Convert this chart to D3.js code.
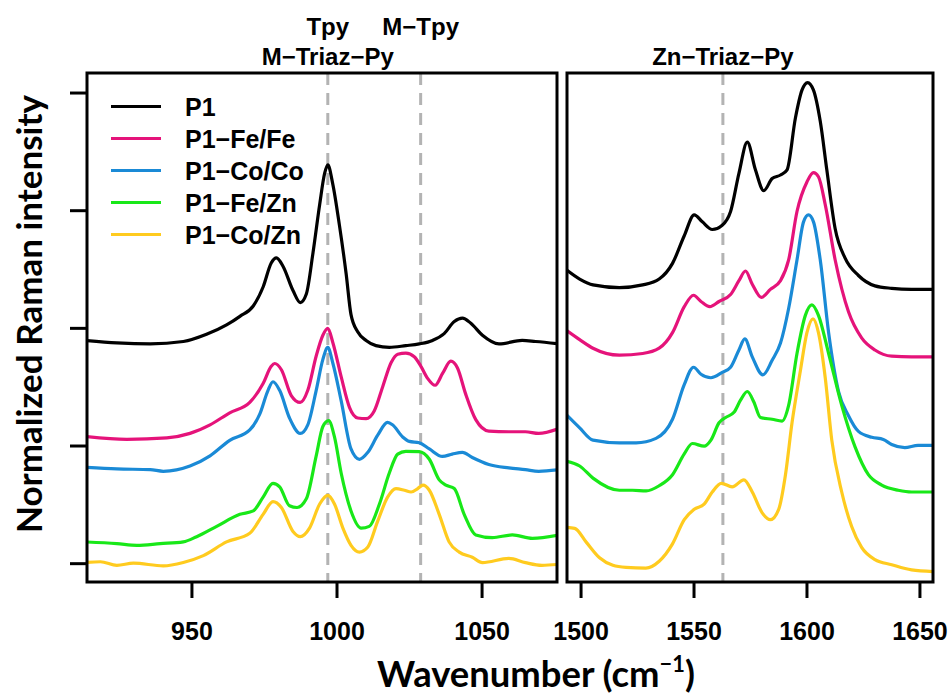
<!DOCTYPE html>
<html>
<head>
<meta charset="utf-8">
<script src="https://cdn.jsdelivr.net/npm/d3@7"></script>
<style>
  html, body { margin: 0; padding: 0; background: #fff; }
  svg { display: block; }
</style>
</head>
<body>
<svg id="chart" width="952" height="695"></svg>
<script>
// ---------------- DATA ----------------
const seriesNames = ["P1", "P1\u2212Fe/Fe", "P1\u2212Co/Co", "P1\u2212Fe/Zn", "P1\u2212Co/Zn"];
const seriesColors = ["#000000", "#E5137A", "#1A8AD6", "#18E818", "#FFCB1F"];

const leftTicks = [950, 1000, 1050];
const rightTicks = [1500, 1550, 1600, 1650];
const yTicks = [0, 1, 2, 3, 4];
const leftMarkers = [997, 1029];
const rightMarkers = [1563];
const markerLabels = [
  { panel: "left", at: 997, row: 0, text: "Tpy" },
  { panel: "left", at: 1029, row: 0, text: "M\u2212Tpy" },
  { panel: "left", at: 997, row: 1, text: "M\u2212Triaz\u2212Py" },
  { panel: "right", at: 1563, row: 1, text: "Zn\u2212Triaz\u2212Py" }
];

// Left panel (920–1070 cm-1): [wavenumber, normalized intensity + offset]
const p1Left = [[913,1.893],[924.3,1.872],[935.8,1.864],[947.2,1.884],[955.2,1.945],[962.1,2.025],[966.7,2.098],[971.3,2.186],[974.7,2.347],[977.5,2.551],[979.3,2.595],[981.6,2.522],[985,2.317],[987.5,2.215],[989.6,2.288],[991.9,2.639],[994.2,3.049],[995.9,3.312],[997,3.385],[998.7,3.224],[1001,2.873],[1003.3,2.464],[1005,2.112],[1007.3,1.966],[1010.2,1.893],[1013.6,1.849],[1018.2,1.834],[1023.9,1.849],[1028.5,1.864],[1033.1,1.893],[1037.1,1.951],[1040.6,2.054],[1043.4,2.083],[1046.3,2.039],[1050.3,1.937],[1056,1.864],[1064,1.893],[1068.6,1.884],[1077,1.864]];
const feFeLeft = [[913,1.079],[927.7,1.053],[941.5,1.065],[949.5,1.103],[956.4,1.176],[963.2,1.278],[970.1,1.366],[974.7,1.527],[977.5,1.673],[978.7,1.697],[981,1.644],[984.4,1.425],[987.5,1.366],[990.1,1.469],[993,1.761],[995.3,1.937],[997,1.995],[998.7,1.878],[1001.6,1.585],[1004.5,1.322],[1007.3,1.234],[1010.2,1.228],[1013,1.293],[1015.9,1.498],[1018.8,1.703],[1021.1,1.776],[1023.9,1.785],[1026.8,1.755],[1029.1,1.673],[1031.4,1.571],[1034,1.512],[1036.6,1.615],[1039.4,1.717],[1041.7,1.659],[1044.5,1.439],[1048,1.22],[1052.5,1.123],[1059.4,1.117],[1065.1,1.117],[1069.7,1.103],[1077,1.147]];
const coCoLeft = [[913,0.816],[924.3,0.801],[935.8,0.795],[940.3,0.781],[949.5,0.825],[956.4,0.912],[963.2,1.044],[970.1,1.132],[973.5,1.264],[976.4,1.469],[978.1,1.542],[980.4,1.469],[983.8,1.234],[987.5,1.103],[990.1,1.176],[993,1.469],[995.3,1.732],[997,1.834],[998.7,1.703],[1001.6,1.381],[1005,0.971],[1007.9,0.883],[1010.8,0.942],[1014.2,1.088],[1017.6,1.196],[1019.3,1.176],[1022.8,1.073],[1025.1,1.035],[1028.5,1.024],[1032,0.971],[1036.5,0.907],[1039.9,0.927],[1043.4,0.942],[1046.8,0.898],[1052.5,0.839],[1059.4,0.81],[1065.1,0.795],[1069.7,0.781],[1077,0.795]];
const feZnLeft = [[913,0.181],[924.3,0.166],[931.2,0.152],[939.2,0.166],[947.2,0.181],[951.8,0.225],[958.7,0.313],[966.7,0.415],[971.3,0.444],[974.7,0.561],[978.1,0.678],[980.4,0.649],[983.8,0.488],[986.4,0.473],[989.6,0.547],[993,0.912],[995.3,1.161],[997.3,1.211],[999.3,1.073],[1001.6,0.766],[1005,0.444],[1008.5,0.298],[1011.3,0.313],[1014.8,0.503],[1018.2,0.766],[1021.1,0.927],[1023.9,0.951],[1028.5,0.948],[1032,0.883],[1035.4,0.708],[1037.7,0.664],[1040.6,0.634],[1044,0.415],[1048,0.24],[1053.7,0.217],[1060.6,0.24],[1067.5,0.211],[1077,0.24]];
const coZnLeft = [[913,0.005],[918.6,0.012],[924.3,-0.018],[930,0],[940.3,-0.023],[947.2,0.006],[954.1,0.064],[962.1,0.181],[970.1,0.254],[974.7,0.415],[978.1,0.523],[981,0.473],[985,0.269],[987.5,0.225],[990.7,0.298],[994.2,0.503],[997,0.576],[999.3,0.503],[1002.2,0.298],[1005,0.152],[1007.9,0.094],[1010.8,0.137],[1014.2,0.357],[1017.6,0.561],[1020.5,0.634],[1023.4,0.62],[1025.7,0.605],[1028,0.634],[1029.8,0.664],[1032,0.62],[1035.4,0.415],[1038.8,0.181],[1042.3,0.094],[1046.8,0.05],[1050.3,0.005],[1059.4,0.041],[1065.1,0.005],[1070.8,-0.018],[1077,-0.009]];

// Right panel (1500–1650 cm-1)
const p1Right = [[1493,2.504],[1499.6,2.415],[1505.5,2.365],[1517.2,2.342],[1527.5,2.365],[1534.8,2.415],[1540.7,2.548],[1545.9,2.783],[1550.3,2.96],[1553.9,2.901],[1558.3,2.836],[1562.7,2.872],[1566.4,2.989],[1570.1,3.313],[1573.8,3.578],[1577.4,3.343],[1581.1,3.166],[1584.8,3.269],[1588.5,3.299],[1591.4,3.343],[1595.1,3.784],[1598,4.02],[1600.5,4.085],[1603.1,4.02],[1606.1,3.755],[1609,3.343],[1612.7,2.842],[1617.1,2.592],[1623,2.445],[1630.3,2.357],[1637.7,2.336],[1646.5,2.327],[1657,2.327]];
const feFeRight = [[1493,1.989],[1499.6,1.9],[1505.5,1.827],[1517.2,1.768],[1527.5,1.782],[1534.8,1.827],[1540.7,1.959],[1545.9,2.18],[1550,2.277],[1553.3,2.224],[1557.2,2.18],[1561.3,2.224],[1566.4,2.283],[1570.1,2.401],[1573,2.483],[1576,2.371],[1580,2.259],[1584,2.327],[1588.5,2.401],[1592.1,2.577],[1595.8,2.989],[1600.2,3.24],[1603.1,3.319],[1605.3,3.284],[1608.3,3.048],[1612.7,2.577],[1618.6,2.136],[1624.4,1.915],[1630.3,1.812],[1637.7,1.759],[1646.5,1.753],[1657,1.753]];
const coCoRight = [[1493,1.276],[1499.6,1.15],[1505.5,1.046],[1517.2,1.023],[1524.6,1.023],[1533.4,1.061],[1540.7,1.223],[1545.9,1.518],[1550,1.665],[1553.3,1.606],[1557.7,1.576],[1562.7,1.621],[1566.4,1.665],[1570.1,1.812],[1572.7,1.906],[1576,1.753],[1580.7,1.6],[1584.8,1.724],[1588.5,1.871],[1592.1,2.165],[1595.8,2.577],[1598.7,2.901],[1600.9,2.96],[1603.1,2.901],[1606.1,2.577],[1609.8,1.959],[1614.2,1.459],[1618.6,1.253],[1623,1.12],[1628.9,1.07],[1634,1.052],[1637.7,1.008],[1643.5,0.982],[1649.4,1.002],[1657,1.002]];
const feZnRight = [[1493,0.87],[1499.6,0.826],[1505.5,0.723],[1517.2,0.62],[1523,0.62],[1529,0.614],[1534.8,0.658],[1540.7,0.752],[1545.9,0.929],[1549.5,1.017],[1554.7,0.994],[1557.7,1.046],[1561.3,1.193],[1564.2,1.238],[1567.9,1.282],[1570.8,1.385],[1573.8,1.459],[1576.7,1.37],[1579.6,1.238],[1584.8,1.223],[1589.2,1.208],[1592.1,1.341],[1595.8,1.782],[1599.5,2.106],[1602.4,2.195],[1605.3,2.106],[1609.8,1.782],[1615.6,1.341],[1621.5,0.988],[1627.4,0.752],[1633.3,0.664],[1640.6,0.62],[1646.5,0.605],[1657,0.605]];
const coZnRight = [[1493,0.305],[1497.4,0.296],[1502.5,0.179],[1508.4,0.046],[1514.3,-0.018],[1520.1,-0.036],[1528.9,-0.042],[1534.8,0.016],[1540.7,0.164],[1545.9,0.37],[1550.3,0.458],[1554.7,0.502],[1558.3,0.605],[1562.3,0.679],[1567.1,0.649],[1572.3,0.708],[1576,0.605],[1580.4,0.428],[1584,0.37],[1587.7,0.458],[1590.7,0.752],[1593.6,1.193],[1597.3,1.635],[1600.2,1.959],[1602.9,2.077],[1605.3,1.959],[1608.3,1.576],[1611.2,1.046],[1615.6,0.605],[1620,0.311],[1624.4,0.134],[1630.3,0.031],[1637.7,-0.013],[1646.5,-0.057],[1657,-0.072]];

const leftSeries = [p1Left, feFeLeft, coCoLeft, feZnLeft, coZnLeft];
const rightSeries = [p1Right, feFeRight, coCoRight, feZnRight, coZnRight];

// ---------------- CHART ----------------
(function () {
const svg = d3.select("#chart");
const plotTop = 73, plotBottom = 582;
const y = d3.scaleLinear().domain([-0.16, 4.166]).range([plotBottom, plotTop]);
const xL = d3.scaleLinear().domain([914, 1076]).range([87, 557]);
const xR = d3.scaleLinear().domain([1494, 1656]).range([567, 933]);

const defs = svg.append("defs");
function clip(id, x) {
  const r = x.range();
  defs.append("clipPath").attr("id", id).append("rect")
    .attr("x", r[0]).attr("y", plotTop).attr("width", r[1] - r[0]).attr("height", plotBottom - plotTop);
}
clip("clipL", xL); clip("clipR", xR);

function panel(x, series, markers, clipId) {
  const g = svg.append("g").attr("clip-path", `url(#${clipId})`);
  g.selectAll("line.marker").data(markers).join("line")
    .attr("class", "marker")
    .attr("x1", d => x(d)).attr("x2", d => x(d))
    .attr("y1", plotTop).attr("y2", plotBottom)
    .attr("stroke", "#b3b3b3").attr("stroke-width", 3)
    .attr("stroke-dasharray", "12,8");
  const line = d3.line().x(d => x(d[0])).y(d => y(d[1])).curve(d3.curveMonotoneX);
  g.selectAll("path.spec").data(series).join("path")
    .attr("class", "spec")
    .attr("d", line)
    .attr("fill", "none")
    .attr("stroke", (d, i) => seriesColors[i])
    .attr("stroke-width", 3.2)
    .attr("stroke-linejoin", "round");
  const r = x.range();
  svg.append("rect").attr("x", r[0]).attr("y", plotTop)
    .attr("width", r[1] - r[0]).attr("height", plotBottom - plotTop)
    .attr("fill", "none").attr("stroke", "#000").attr("stroke-width", 3);
}
panel(xL, leftSeries, leftMarkers, "clipL");
panel(xR, rightSeries, rightMarkers, "clipR");

function styleAxis(g) {
  g.select(".domain").remove();
  g.selectAll(".tick line").attr("stroke", "#000").attr("stroke-width", 3);
  g.selectAll(".tick text").attr("fill", "#000")
    .attr("font-family", "'Liberation Sans', Arial, sans-serif")
    .attr("font-weight", "bold").attr("font-size", 25);
}
svg.append("g").attr("transform", `translate(0,${plotBottom})`)
  .call(d3.axisBottom(xL).tickValues(leftTicks).tickSize(16).tickPadding(24).tickFormat(d3.format("d")))
  .call(styleAxis);
svg.append("g").attr("transform", `translate(0,${plotBottom})`)
  .call(d3.axisBottom(xR).tickValues(rightTicks).tickSize(16).tickPadding(24).tickFormat(d3.format("d")))
  .call(styleAxis);
svg.append("g").attr("transform", `translate(87,0)`)
  .call(d3.axisLeft(y).tickValues(yTicks).tickSize(17).tickFormat(""))
  .call(styleAxis);

svg.selectAll("text.mlabel").data(markerLabels).join("text")
  .attr("class", "mlabel")
  .attr("x", d => (d.panel === "left" ? xL : xR)(d.at))
  .attr("y", d => d.row === 0 ? 35 : 65)
  .attr("text-anchor", "middle")
  .attr("font-family", "'Liberation Sans', Arial, sans-serif")
  .attr("font-weight", "bold").attr("font-size", 24)
  .text(d => d.text);

const leg = svg.append("g");
seriesNames.forEach((name, i) => {
  const yy = 106.5 + i * 32;
  leg.append("line").attr("x1", 111).attr("x2", 161).attr("y1", yy).attr("y2", yy)
    .attr("stroke", seriesColors[i]).attr("stroke-width", 3.2);
  leg.append("text").attr("x", 185).attr("y", yy + 9)
    .attr("font-family", "'Liberation Sans', Arial, sans-serif")
    .attr("font-weight", "bold").attr("font-size", 25)
    .text(name);
});

const xt = svg.append("text").attr("x", 536).attr("y", 687).attr("text-anchor", "middle")
  .attr("font-family", "Lato, 'Open Sans', sans-serif").attr("font-weight", 700)
  .attr("font-size", 30).attr("fill", "#000");
xt.append("tspan").text("Wavenumber (cm");
xt.append("tspan").attr("font-size", 18).attr("dy", -12).text("\u22121");
xt.append("tspan").attr("dy", 12).text(")");
{
  const len = xt.node().getComputedTextLength();
  const k = 318 / len;
  xt.attr("font-size", 30 * k);
  xt.selectAll("tspan").filter((d, i) => i === 1).attr("font-size", 18 * k).attr("dy", -12 * k);
  xt.selectAll("tspan").filter((d, i) => i === 2).attr("dy", 12 * k);
}

const yt = svg.append("text").attr("transform", "translate(42,314) rotate(-90)")
  .attr("text-anchor", "middle")
  .attr("font-family", "Lato, 'Open Sans', sans-serif").attr("font-weight", 700)
  .attr("font-size", 32).attr("fill", "#000")
  .text("Normalized Raman intensity");
{
  const len = yt.node().getComputedTextLength();
  yt.attr("font-size", 32 * 438 / len);
}
})();
</script>
</body>
</html>
